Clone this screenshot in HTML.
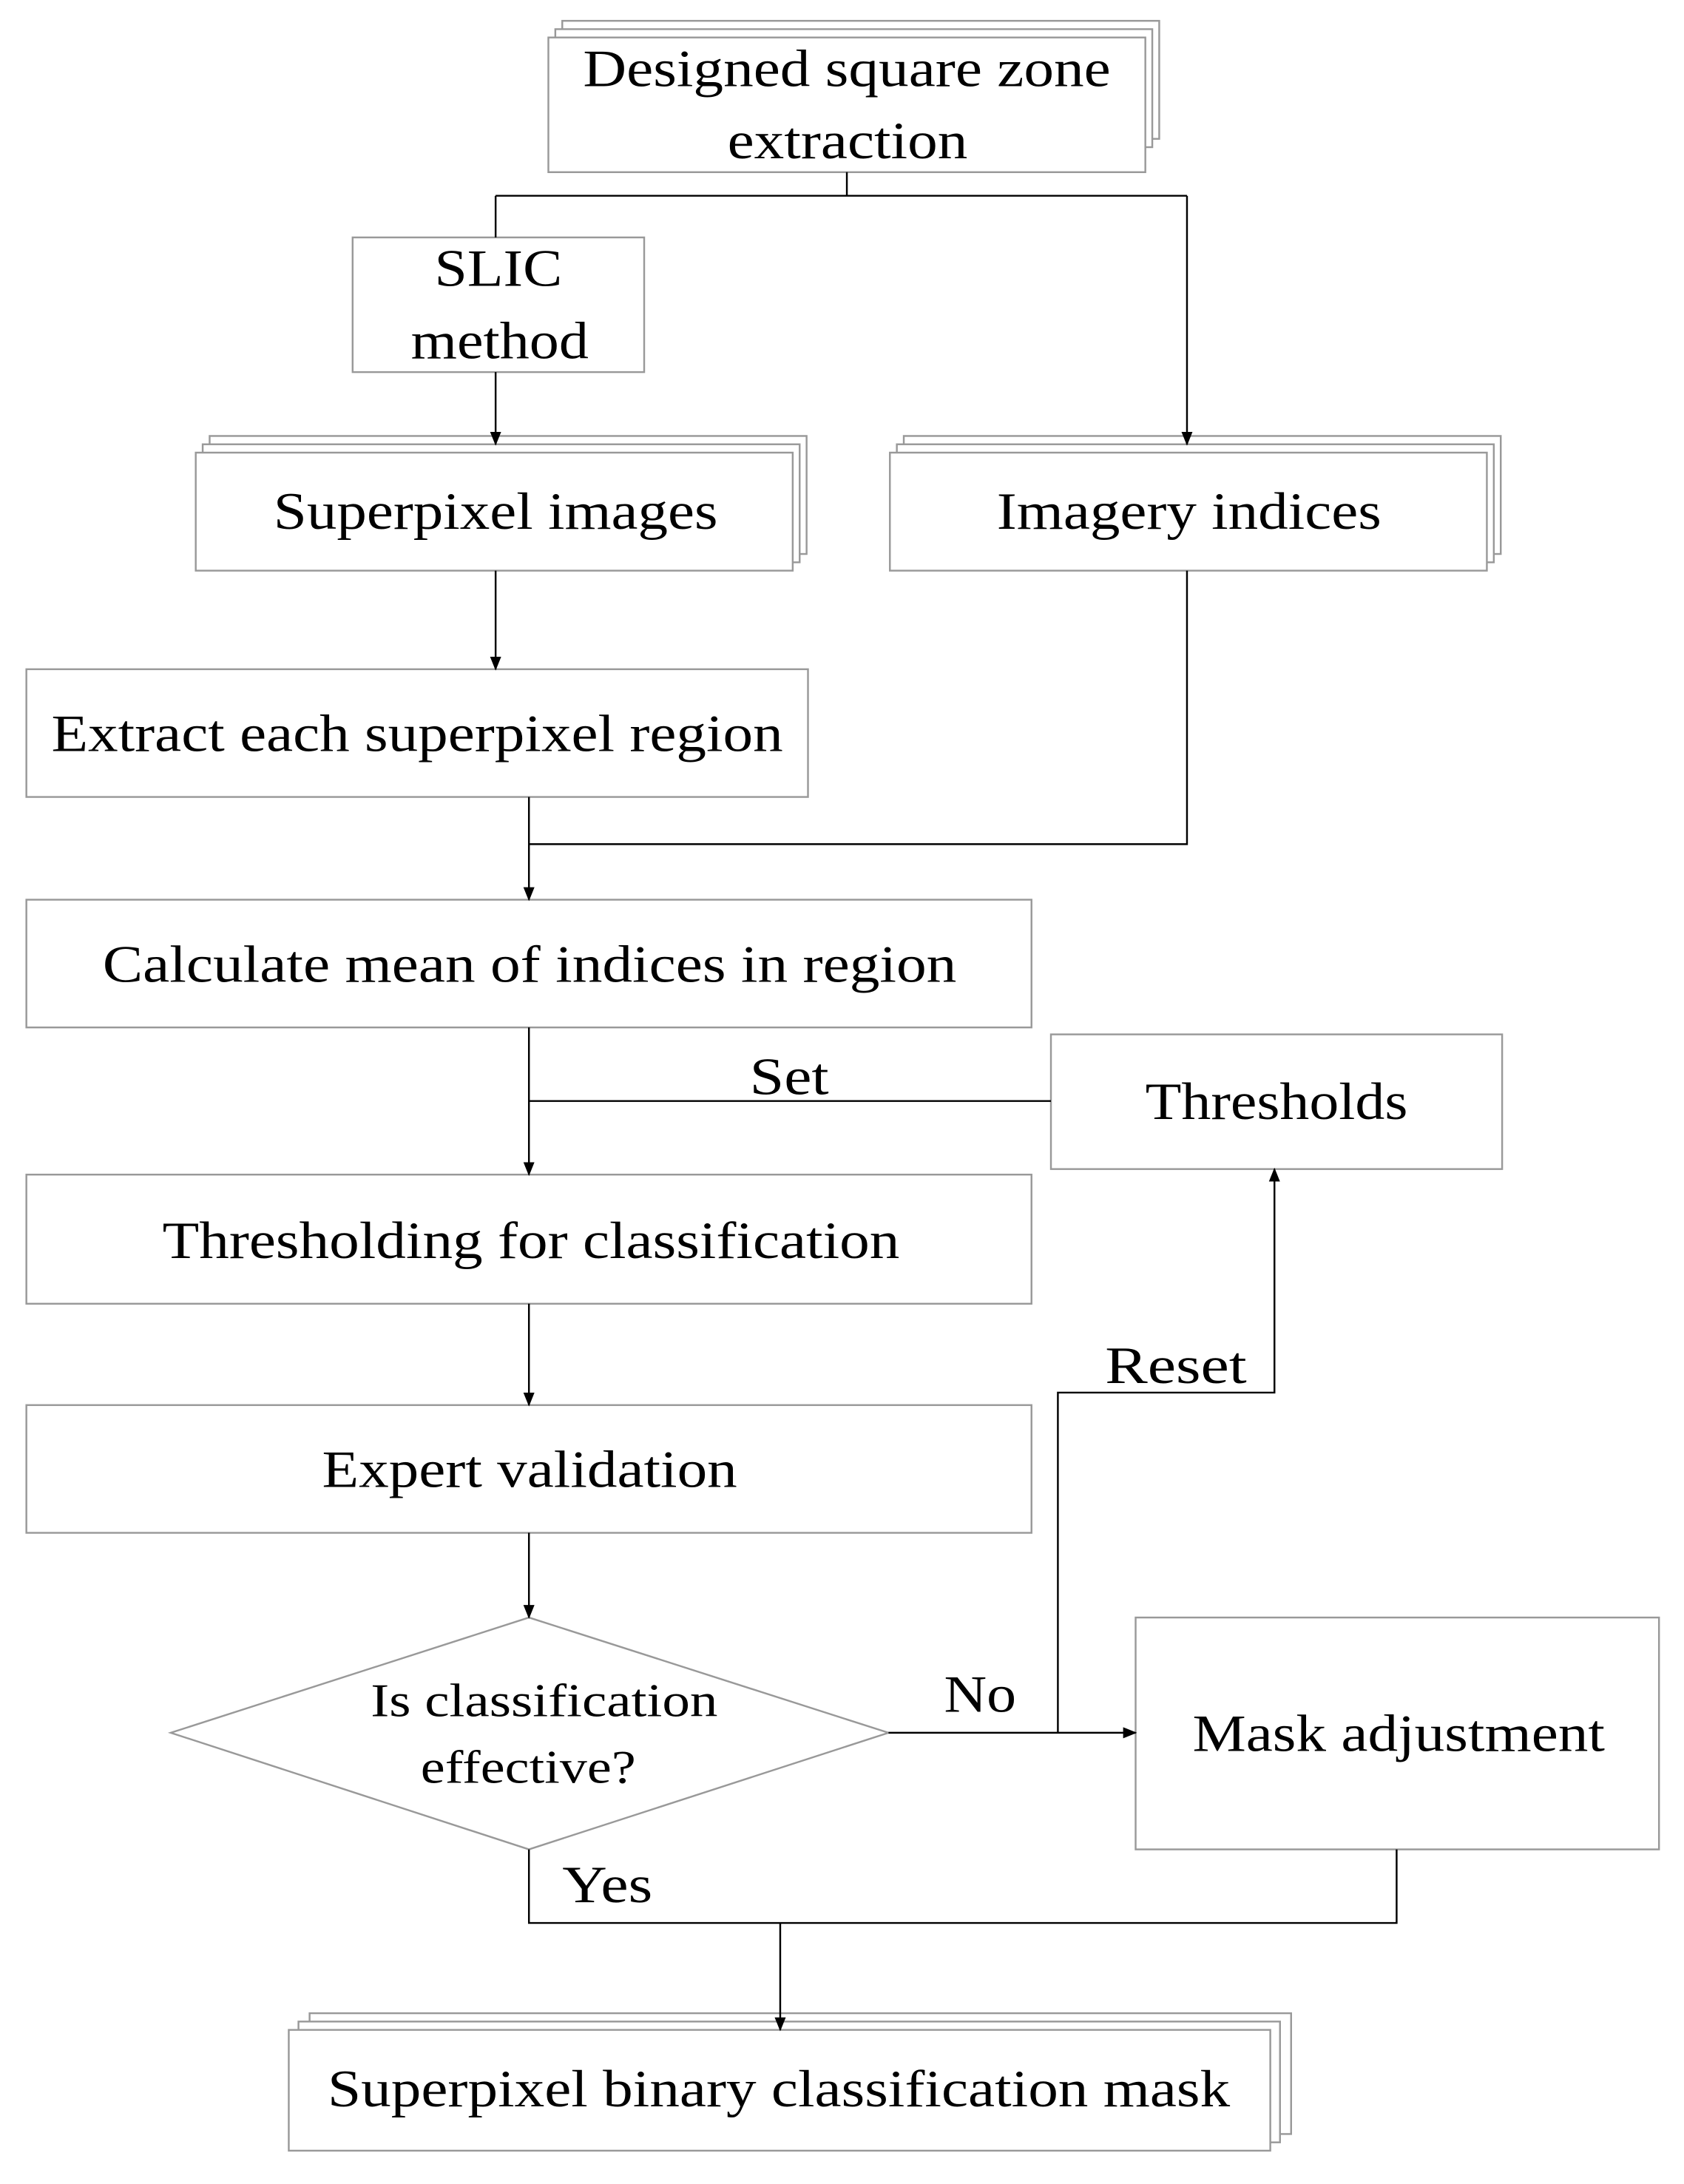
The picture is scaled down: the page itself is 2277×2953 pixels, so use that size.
<!DOCTYPE html>
<html><head><meta charset="utf-8"><style>html,body{margin:0;padding:0;background:#fff}svg{display:block}text{font-family:"Liberation Serif","Times New Roman",serif}</style></head>
<body>
<svg width="2277" height="2953" viewBox="0 0 1213 1573" preserveAspectRatio="none" xmlns="http://www.w3.org/2000/svg">
<defs><marker id="a" markerWidth="10" markerHeight="10" refX="9" refY="5" orient="auto" markerUnits="userSpaceOnUse"><path d="M0,1 L10,5 L0,9 z" fill="#000"/></marker></defs>
<g fill="#fff" stroke="#999" stroke-width="1.3">
<rect x="405" y="15" width="430" height="85"/><rect x="400" y="21" width="430" height="85"/><rect x="395" y="27" width="430" height="97"/>
<rect x="254" y="171" width="210" height="97"/>
<rect x="151" y="314" width="430" height="85"/><rect x="146" y="320" width="430" height="85"/><rect x="141" y="326" width="430" height="85"/>
<rect x="651" y="314" width="430" height="85"/><rect x="646" y="320" width="430" height="85"/><rect x="641" y="326" width="430" height="85"/>
<rect x="19" y="482" width="563" height="92"/>
<rect x="19" y="648" width="724" height="92"/>
<rect x="757" y="745" width="325" height="97"/>
<rect x="19" y="846" width="724" height="93"/>
<rect x="19" y="1012" width="724" height="92"/>
<polygon points="381,1165 640,1248 381,1332 123,1248"/>
<rect x="818" y="1165" width="377" height="167"/>
<rect x="223" y="1450" width="707" height="87"/><rect x="215" y="1456" width="707" height="87"/><rect x="208" y="1462" width="707" height="87"/>
</g>
<g fill="none" stroke="#000" stroke-width="1.3">
<path d="M610,124 V141 M357,141 H855 M357,141 V171"/>
<path d="M855,141 V320" marker-end="url(#a)"/>
<path d="M357,268 V320" marker-end="url(#a)"/>
<path d="M357,411 V482" marker-end="url(#a)"/>
<path d="M855,411 V608 H381"/>
<path d="M381,574 V648" marker-end="url(#a)"/>
<path d="M757,793 H381"/>
<path d="M381,740 V846" marker-end="url(#a)"/>
<path d="M381,939 V1012" marker-end="url(#a)"/>
<path d="M381,1104 V1165" marker-end="url(#a)"/>
<path d="M640,1248 H818" marker-end="url(#a)"/>
<path d="M762,1248 V1003 H918 V842" marker-end="url(#a)"/>
<path d="M381,1332 V1385 H1006 V1332"/>
<path d="M562,1385 V1462" marker-end="url(#a)"/>
</g>
<g font-size="38" fill="#000">
<text x="420" y="62" textLength="380" lengthAdjust="spacingAndGlyphs">Designed square zone</text>
<text x="524" y="114" textLength="173" lengthAdjust="spacingAndGlyphs">extraction</text>
<text x="313" y="206" textLength="92" lengthAdjust="spacingAndGlyphs">SLIC</text>
<text x="296" y="258" textLength="128" lengthAdjust="spacingAndGlyphs">method</text>
<text x="197" y="381" textLength="320" lengthAdjust="spacingAndGlyphs">Superpixel images</text>
<text x="718" y="381" textLength="277" lengthAdjust="spacingAndGlyphs">Imagery indices</text>
<text x="37" y="541" textLength="527" lengthAdjust="spacingAndGlyphs">Extract each superpixel region</text>
<text x="74" y="707" textLength="615" lengthAdjust="spacingAndGlyphs">Calculate mean of indices in region</text>
<text x="540" y="788" textLength="57" lengthAdjust="spacingAndGlyphs">Set</text>
<text x="825" y="806" textLength="189" lengthAdjust="spacingAndGlyphs">Thresholds</text>
<text x="117" y="906" textLength="531" lengthAdjust="spacingAndGlyphs">Thresholding for classification</text>
<text x="232" y="1071" textLength="299" lengthAdjust="spacingAndGlyphs">Expert validation</text>
<text x="267" y="1236" font-size="34" textLength="250" lengthAdjust="spacingAndGlyphs">Is classification</text>
<text x="303" y="1284" font-size="34" textLength="155" lengthAdjust="spacingAndGlyphs">effective?</text>
<text x="680" y="1233" textLength="52" lengthAdjust="spacingAndGlyphs">No</text>
<text x="796" y="996" textLength="102" lengthAdjust="spacingAndGlyphs">Reset</text>
<text x="859" y="1261" textLength="297" lengthAdjust="spacingAndGlyphs">Mask adjustment</text>
<text x="405" y="1370" textLength="65" lengthAdjust="spacingAndGlyphs">Yes</text>
<text x="236" y="1517" textLength="650" lengthAdjust="spacingAndGlyphs">Superpixel binary classification mask</text>
</g>
</svg>
</body></html>
